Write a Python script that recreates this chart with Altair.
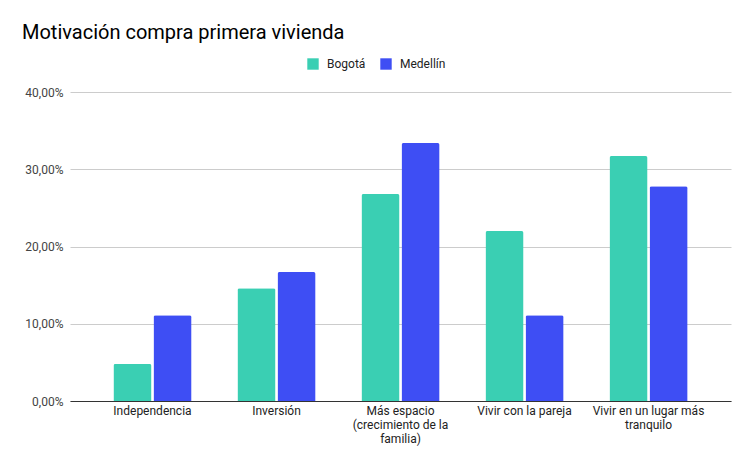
import altair as alt
import pandas as pd

categories = [
    "Independencia",
    "Inversión",
    "Más espacio (crecimiento de la familia)",
    "Vivir con la pareja",
    "Vivir en un lugar más tranquilo",
]
wrapped = [
    ["Independencia"],
    ["Inversión"],
    ["Más espacio", "(crecimiento de la", "familia)"],
    ["Vivir con la pareja"],
    ["Vivir en un lugar más", "tranquilo"],
]
series = ["Bogotá", "Medellín"]
bogota = [0.048, 0.146, 0.268, 0.220, 0.317]
medellin = [0.111, 0.167, 0.334, 0.111, 0.278]
colors = ["#3ACFB3", "#3E4EF4"]
y_ticks = [0, 0.1, 0.2, 0.3, 0.4]

rows = []
for c, b, m in zip(categories, bogota, medellin):
    rows.append({"cat": c, "city": "Bogotá", "val": b})
    rows.append({"cat": c, "city": "Medellín", "val": m})
df = pd.DataFrame(rows)

# label expression for wrapped labels
expr = "datum.value"
for c, w in reversed(list(zip(categories, wrapped))):
    arr = "[" + ",".join("'" + s + "'" for s in w) + "]"
    expr = f"datum.value == '{c}' ? {arr} : ({expr})"

chart = alt.Chart(df).mark_bar(
    cornerRadiusTopLeft=2, cornerRadiusTopRight=2
).encode(
    x=alt.X(
        "cat:N",
        sort=categories,
        scale=alt.Scale(paddingInner=0.37, paddingOuter=0.35),
        axis=alt.Axis(
            title=None,
            labelAngle=0,
            labelExpr=expr,
            labelFont="Roboto",
            labelFontSize=12,
            labelColor="#222222",
            labelLineHeight=14,
            labelPadding=4,
            ticks=False,
            domainColor="#333333",
            domainWidth=1,
            labelBaseline="top",
        ),
    ),
    xOffset=alt.XOffset("city:N", sort=series, scale=alt.Scale(paddingInner=0.05)),
    y=alt.Y(
        "val:Q",
        scale=alt.Scale(domain=[0, 0.4], nice=False),
        axis=alt.Axis(
            title=None,
            values=y_ticks,
            labelExpr="replace(format(datum.value, '.2%'), '.', ',')",
            labelFont="Roboto",
            labelFontSize=12,
            labelColor="#444444",
            labelPadding=7,
            ticks=False,
            domain=False,
            gridColor="#cccccc",
            gridWidth=1,
        ),
    ),
    color=alt.Color(
        "city:N",
        sort=series,
        scale=alt.Scale(domain=series, range=colors),
        legend=alt.Legend(
            title=None,
            orient="none",
            direction="horizontal",
            legendX=237,
            legendY=-34,
            symbolType="square",
            symbolSize=130,
            symbolStrokeWidth=0,
            labelFont="Roboto",
            labelFontSize=12,
            labelColor="#222222",
            columnPadding=14,
            labelOffset=8,
        ),
    ),
).properties(
    width=661,
    height=309,
    title=alt.TitleParams(
        "Motivación compra primera vivienda",
        anchor="start",
        frame="group",
        font="Roboto",
        fontSize=20,
        fontWeight="normal",
        color="#000000",
        dx=-48,
        offset=15,
    ),
    padding={"left": 62, "top": 84, "right": 15, "bottom": 50},
    autosize=alt.AutoSizeParams(type="none"),
).configure_view(stroke=None)

chart.save("out.html", embed_options={"renderer": "svg", "actions": False})
